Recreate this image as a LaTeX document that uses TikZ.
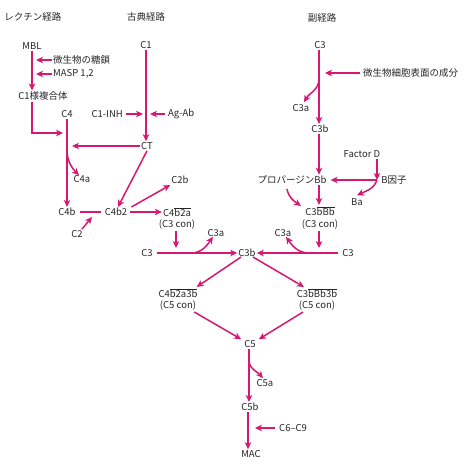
\documentclass[tikz,border=0pt]{standalone}
\usepackage{fontspec}
\setmainfont{Noto Sans CJK JP}
\usetikzlibrary{arrows.meta}
\definecolor{pk}{RGB}{214,24,112}
\newcommand{\ovl}[1]{$\overline{\mbox{#1}}$}
\begin{document}
\begin{tikzpicture}[x=1pt,y=-1pt,
  lbl/.style={inner sep=1pt, text=black!85, font=\fontsize{9.5}{11}\selectfont},
  arr/.style={draw=pk, line width=1.5pt, -{Stealth[length=7pt,width=6.5pt,inset=2pt]}},
  ln/.style={draw=pk, line width=1.5pt}]
\useasboundingbox (0,0) rectangle (474,470);
% headings
\node[lbl] (lectin) at (33,17) {レクチン経路};
\node[lbl] (classic) at (146,17) {古典経路};
\node[lbl] (alt) at (322,18) {副経路};
% lectin pathway
\node[lbl] (mbl) at (32,46) {MBL};
\node[lbl,anchor=west] (sugar) at (52,60) {微生物の糖鎖};
\node[lbl,anchor=west] (masp) at (52,74) {MASP 1,2};
\node[lbl] (c1like) at (43,96) {C1様複合体};
\draw[arr] (mbl.south) -- (mbl.south |- c1like.north);
\draw[arr,shorten >=4pt] (sugar.west) -- (sugar.west -| mbl.south);
\draw[arr,shorten >=4pt] (masp.west) -- (masp.west -| mbl.south);
\node[lbl] (c4) at (67,114) {C4};
\coordinate (j1) at (67,133);
\draw[arr,shorten >=4pt] (c1like.south -| mbl.south) |- (j1);
% classical pathway
\node[lbl] (c1) at (146,45) {C1};
\node[lbl] (ct) at (147,146) {CT};
\node[lbl,anchor=east] (inh) at (124,114) {C1-INH};
\node[lbl,anchor=west] (agab) at (167,114) {Ag-Ab};
\draw[arr] (c1.south) -- (c1.south |- ct.north);
\draw[arr,shorten <=2pt,shorten >=3pt] (inh.east) -- (inh.east -| c1.south);
\draw[arr,shorten <=2pt,shorten >=4pt] (agab.west) -- (agab.west -| c1.south);
\draw[arr,shorten >=5pt] (ct.west) -- (ct.west -| c4.south);
\node[lbl] (c4b) at (67,212) {C4b};
\draw[arr] (c4.south) -- (c4b.north);
\coordinate (c4as) at (67,152);
\node[lbl] (c4a) at (82,179) {C4a};
\draw[arr] (c4as) to[out=-85,in=135] ([xshift=-3pt,yshift=-1pt]c4a.north);
\node[lbl] (c4b2) at (116,212) {C4b2};
\draw[ln,shorten <=3pt,shorten >=3pt] (c4b.east) -- (c4b2.west);
\node[lbl] (c2) at (77,234) {C2};
\coordinate (c2e) at (92,217);
\draw[arr] ([xshift=-2pt]c2.north east) -- (c2e);
\draw[arr] (ct.south) -- ([xshift=2pt]c4b2.north);
\node[lbl] (c2b) at (180,180) {C2b};
\draw[arr] ([xshift=3pt]c4b2.north east) -- (c2b.south west);
\node[lbl] (c4b2a) at (177,212) {C4\ovl{b2a}};
\node[lbl] (con1) at (177,225) {(C3 con)};
\draw[arr,shorten <=2pt] (c4b2.east) -- (c4b2a.west);
% C3 convertase row
\node[lbl] (c3l) at (147,253) {C3};
\node[lbl] (c3b) at (247,253) {C3b};
\node[lbl] (c3r) at (348,253) {C3};
\draw[arr,shorten <=3pt] (c3l.east) -- (c3b.west);
\draw[arr,shorten <=3pt] (c3r.west) -- (c3b.east);
\draw[arr,shorten >=5pt] ([xshift=-1pt]con1.south) -- ([xshift=-1pt]con1.south |- c3l.east);
\node[lbl] (c3al) at (216,233) {C3a};
\coordinate (c3als) at (191,253);
\draw[arr] (c3als) to[out=0,in=-125] ([xshift=-3pt,yshift=1pt]c3al.south);
\node[lbl] (c3ar) at (283,233) {C3a};
\coordinate (c3ars) at (309,253);
\draw[arr] (c3ars) to[out=180,in=-55] ([xshift=3pt,yshift=1pt]c3ar.south);
% alternative pathway
\node[lbl] (c3t) at (320,45) {C3};
\node[lbl] (c3b2) at (320,129) {C3b};
\node[lbl,anchor=west] (comp) at (362,73) {微生物細胞表面の成分};
\draw[arr] ([xshift=-1pt]c3t.south) -- ([xshift=-1pt]c3b2.north);
\draw[arr,shorten <=2pt,shorten >=5pt] (comp.west) -- (comp.west -| c3b2.north);
\node[lbl] (c3a3) at (301,108) {C3a};
\coordinate (c3a3s) at (319,79);
\draw[arr] (c3a3s) to[out=-90,in=60] ([xshift=3pt,yshift=1pt]c3a3.north);
\node[lbl] (prop) at (292,180) {プロパージンBb};
\node[lbl] (c3bbb) at (320,211) {C3\ovl{bBb}};
\node[lbl] (con2) at (320,225) {(C3 con)};
\draw[arr] ([xshift=-1pt]c3b2.south) -- ([xshift=-1pt]c3b2.south |- prop.north);
\draw[arr] ([xshift=-1pt]c3bbb.north |- prop.south) -- ([xshift=-1pt]c3bbb.north);
\coordinate (props) at (287,189);
\draw[arr] (props) to[out=-80,in=145] (301,206);
\draw[arr,shorten >=5pt] ([xshift=-1pt]con2.south) -- ([xshift=-1pt]con2.south |- c3r.west);
\node[lbl] (fd) at (362,154) {Factor D};
\node[lbl] (bf) at (394,180) {B因子};
\coordinate (bj) at (377,180);
\draw[arr] (fd.south -| bj) -- (bj);
\draw[arr,shorten >=3pt] (bj) -- (prop.east);
\node[lbl] (ba) at (357,202) {Ba};
\draw[arr] (bj) to[out=-110,in=25] ([yshift=2pt]ba.north);
% C5 convertases
\node[lbl] (c5cl) at (178,293) {C4\ovl{b2a3b}};
\node[lbl] (con3) at (178,306) {(C5 con)};
\node[lbl] (c5cr) at (317,293) {C3\ovl{bBb3b}};
\node[lbl] (con4) at (317,306) {(C5 con)};
\draw[arr] ([xshift=-6pt,yshift=1pt]c3b.south) -- ([xshift=-2pt]c5cl.north east);
\draw[arr] ([xshift=6pt,yshift=1pt]c3b.south) -- ([xshift=-13pt]c5cr.north);
\node[lbl] (c5) at (250,344) {C5};
\draw[arr] ([xshift=-3pt]con3.south east) -- ([xshift=-2pt]c5.north west);
\draw[arr] ([xshift=-14pt]con4.south) -- ([xshift=2pt]c5.north east);
\node[lbl] (c5b) at (250,407) {C5b};
\draw[arr] ([xshift=-1pt]c5.south) -- ([xshift=-1pt]c5b.north);
\node[lbl] (c5a) at (265,383) {C5a};
\coordinate (c5as) at (249,361);
\draw[arr] (c5as) to[out=-85,in=130] ([xshift=-2pt]c5a.north);
\node[lbl] (mac) at (251,454) {MAC};
\draw[arr] ([xshift=-2pt]c5b.south) -- ([xshift=-3pt]mac.north);
\node[lbl,anchor=west] (c6) at (278,428) {C6–C9};
\draw[arr,shorten <=3pt,shorten >=5pt] (c6.west) -- (c6.west -| c5b.south);
\end{tikzpicture}
\end{document}
